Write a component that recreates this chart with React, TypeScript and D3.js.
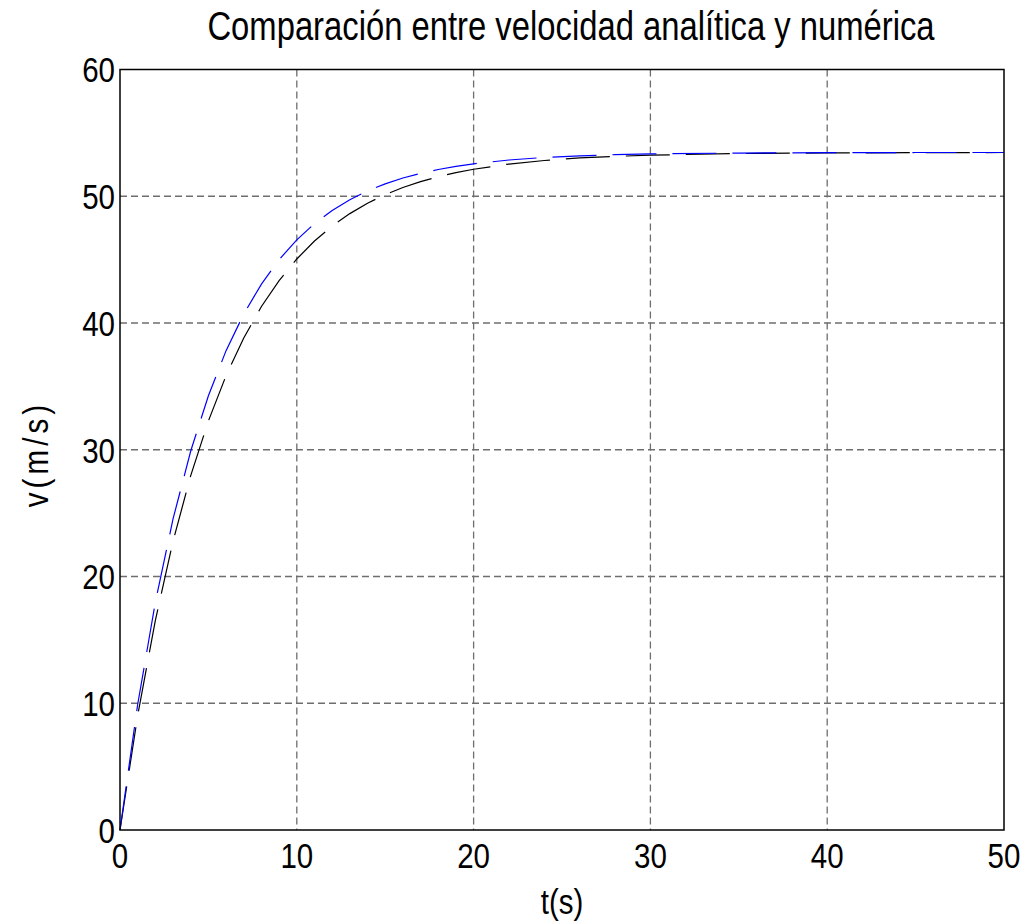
import React from "react";
import * as d3 from "d3";

const title = "Comparación entre velocidad analítica y numérica";
const xLabel = "t(s)";
const yLabel = "v(m/s)";
const xTicks = [0, 10, 20, 30, 40, 50];
const yTicks = [0, 10, 20, 30, 40, 50, 60];

// Numerical (blue) samples
const tBlue = [0, 1, 2, 3, 4, 5, 6, 7, 8, 9, 10, 11, 12, 13, 14, 15, 16, 17, 18, 19, 20, 22, 24, 26, 28, 30, 35, 40, 45, 50];
const vBlue = [0, 9.9, 17.97, 24.54, 29.9, 34.26, 37.82, 40.71, 43.07, 45.0, 46.56, 47.84, 48.88, 49.73, 50.42, 50.98, 51.44, 51.81, 52.11, 52.36, 52.56, 52.86, 53.06, 53.19, 53.28, 53.34, 53.41, 53.44, 53.45, 53.45];

// Analytical (black) samples
const tBlack = [0, 1, 2, 3, 4, 5, 6, 7, 8, 9, 10, 11, 12, 13, 14, 15, 16, 17, 18, 19, 20, 22, 24, 26, 28, 30, 35, 40, 45, 50];
const vBlack = [0, 9.03, 16.54, 22.78, 27.96, 32.27, 35.85, 38.82, 41.3, 43.35, 45.05, 46.47, 47.65, 48.63, 49.45, 50.13, 50.69, 51.15, 51.54, 51.86, 52.13, 52.54, 52.82, 53.02, 53.15, 53.24, 53.37, 53.42, 53.44, 53.45];

const W = 1026;
const H = 924;
const left = 120, right = 1004, top = 69.5, bottom = 830;
const FONT = "'Liberation Sans', Arial, sans-serif";
const SX = 0.82; // narrow face emulation

function NText(props: { x: number; y: number; size: number; anchor?: string; rotate?: number; spacing?: number; dy?: string; children: React.ReactNode }) {
  const { x, y, size, anchor = "middle", rotate = 0, spacing = 0, dy, children } = props;
  return (
    <g transform={`translate(${x},${y}) rotate(${rotate}) scale(${SX},1)`}>
      <text x={0} y={0} dy={dy} fontSize={size} textAnchor={anchor} fill="#000" letterSpacing={spacing}>
        {children}
      </text>
    </g>
  );
}

export default function App() {
  const x = d3.scaleLinear().domain([0, 50]).range([left, right]);
  const y = d3.scaleLinear().domain([0, 60]).range([bottom, top]);
  const line = d3
    .line<[number, number]>()
    .x((d) => x(d[0]))
    .y((d) => y(d[1]));
  const blueData = tBlue.map((t, i) => [t, vBlue[i]] as [number, number]);
  const blackData = tBlack.map((t, i) => [t, vBlack[i]] as [number, number]);

  return (
    <svg
      width={W}
      height={H}
      style={{ position: "absolute", left: 0, top: 0, background: "#fff" }}
      fontFamily={FONT}
    >
      <rect x={0} y={0} width={W} height={H} fill="#fff" />
      {/* grid */}
      {xTicks.slice(1, -1).map((t) => (
        <line key={"gx" + t} x1={x(t)} x2={x(t)} y1={top} y2={bottom} stroke="#6e6e6e" strokeWidth={1.3} strokeDasharray="7,4" />
      ))}
      {yTicks.slice(1, -1).map((t) => (
        <line key={"gy" + t} x1={left} x2={right} y1={y(t)} y2={y(t)} stroke="#6e6e6e" strokeWidth={1.3} strokeDasharray="7,4" />
      ))}
      {/* curves */}
      <path d={line(blackData) || ""} fill="none" stroke="#000" strokeWidth={1.2} strokeDasharray="44,16" />
      <path d={line(blueData) || ""} fill="none" stroke="#0000ff" strokeWidth={1.2} strokeDasharray="44,16" />
      {/* frame */}
      <rect x={left} y={top} width={right - left} height={bottom - top} fill="none" stroke="#000" strokeWidth={1.5} />
      {/* tick labels */}
      {xTicks.map((t) => (
        <NText key={"tx" + t} x={x(t)} y={868} size={36}>
          {t}
        </NText>
      ))}
      {yTicks.map((t) => (
        <NText key={"ty" + t} x={115} y={y(t)} size={36} anchor="end" dy="0.36em">
          {t}
        </NText>
      ))}
      <NText x={(left + right) / 2} y={914} size={36}>
        {xLabel}
      </NText>
      <NText x={48} y={454} size={36} rotate={-90} spacing={5}>
        {yLabel}
      </NText>
      <NText x={571} y={40} size={40}>
        {title}
      </NText>
    </svg>
  );
}
